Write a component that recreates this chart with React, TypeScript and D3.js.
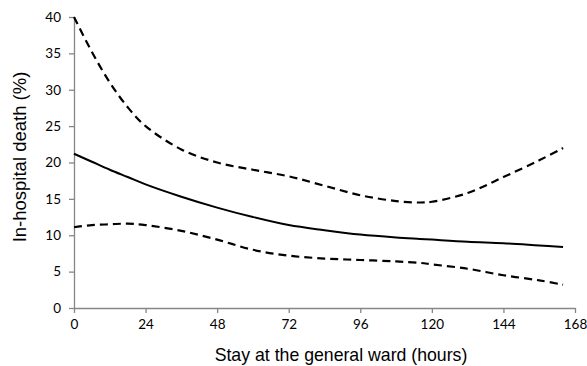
import React, { useRef, useEffect } from "react";
import * as d3 from "d3";

const hours = [0, 6, 12, 18, 24, 36, 48, 60, 72, 84, 96, 108, 116, 120, 132, 144, 156, 164];
const estimate = [21.2, 20.1, 19.0, 18.0, 17.0, 15.3, 13.8, 12.5, 11.4, 10.7, 10.1, 9.7, 9.5, 9.4, 9.1, 8.9, 8.6, 8.4];
const upper = [40, 35.2, 31.0, 27.6, 25.0, 21.8, 20.0, 19.0, 18.1, 16.8, 15.5, 14.7, 14.5, 14.6, 15.8, 18.0, 20.3, 22.0];
const lower = [11.1, 11.4, 11.5, 11.6, 11.4, 10.6, 9.4, 8.0, 7.2, 6.8, 6.6, 6.4, 6.2, 6.0, 5.4, 4.5, 3.8, 3.2];
const xTicks = [0, 24, 48, 72, 96, 120, 144, 168];
const yTicks = [0, 5, 10, 15, 20, 25, 30, 35, 40];
const xTitle = "Stay at the general ward (hours)";
const yTitle = "In-hospital death (%)";

const W = 587, H = 366;
const M = { left: 74, right: 12, top: 17, bottom: 58 };

export default function App() {
  const ref = useRef<SVGSVGElement>(null);
  useEffect(() => {
    const svg = d3.select(ref.current);
    svg.selectAll("*").remove();
    const x = d3.scaleLinear().domain([0, 168]).range([M.left, W - M.right]);
    const y = d3.scaleLinear().domain([0, 40]).range([H - M.bottom, M.top]);
    const axisColor = "#868686";
    const tickFont = "Lato, 'Open Sans', sans-serif";

    const gx = svg.append("g").attr("transform", `translate(0,${y(0)})`)
      .call(d3.axisBottom(x).tickValues(xTicks).tickSize(5).tickSizeOuter(0).tickPadding(6));
    const gy = svg.append("g").attr("transform", `translate(${x(0)},0)`)
      .call(d3.axisLeft(y).tickValues(yTicks).tickSize(5).tickSizeOuter(0).tickPadding(8));
    [gx, gy].forEach(g => {
      g.select(".domain").attr("stroke", axisColor).attr("stroke-width", 1.3);
      g.selectAll(".tick line").attr("stroke", axisColor).attr("stroke-width", 1.3);
      g.selectAll("text").attr("fill", "#000").style("font-family", tickFont).style("font-size", "13.5px");
    });

    const mk = (vals: number[]) => d3.line<number>()
      .x((_, i) => x(hours[i])).y(v => y(v)).curve(d3.curveCatmullRom.alpha(0.5))(vals);

    svg.append("path").attr("d", mk(upper)).attr("fill", "none").attr("stroke", "#000")
      .attr("stroke-width", 2.2).attr("stroke-dasharray", "8,5");
    svg.append("path").attr("d", mk(lower)).attr("fill", "none").attr("stroke", "#000")
      .attr("stroke-width", 2.2).attr("stroke-dasharray", "8,5");
    svg.append("path").attr("d", mk(estimate)).attr("fill", "none").attr("stroke", "#000")
      .attr("stroke-width", 2);

    svg.append("text").attr("x", 341).attr("y", 361)
      .attr("text-anchor", "middle").style("font-family", "'Liberation Sans', Arial, sans-serif")
      .style("font-size", "17.7px").text(xTitle);
    svg.append("text").attr("transform", `translate(26,157) rotate(-90)`)
      .attr("text-anchor", "middle").style("font-family", "'Liberation Sans', Arial, sans-serif")
      .style("font-size", "18.5px").text(yTitle);
  }, []);
  return <svg ref={ref} width={W} height={H} style={{ position: "absolute", left: 0, top: 0, background: "#fff" }} />;
}
